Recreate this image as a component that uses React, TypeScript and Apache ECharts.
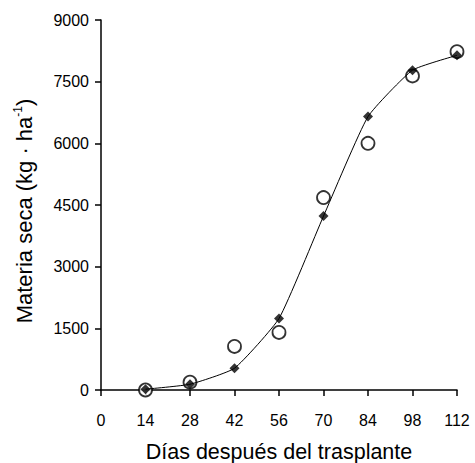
import React, { useEffect, useRef } from "react";
import * as echarts from "echarts";

const days = [14, 28, 42, 56, 70, 84, 98, 112];
const filledValues = [20, 140, 530, 1740, 4230, 6650, 7780, 8140];
const openValues = [0, 190, 1060, 1400, 4680, 6000, 7640, 8230];
const xTicks = [0, 14, 28, 42, 56, 70, 84, 98, 112];
const yTicks = [0, 1500, 3000, 4500, 6000, 7500, 9000];

const font = "'Liberation Sans', Arial, sans-serif";

export default function App() {
  const ref = useRef<HTMLDivElement>(null);
  useEffect(() => {
    const chart = echarts.init(ref.current!, null, { renderer: "svg" });
    const pairs = (vals: number[]) => days.map((d, i) => [d, vals[i]]);
    chart.setOption({
      animation: false,
      backgroundColor: "#fff",
      grid: { left: 101, right: 18, top: 20, bottom: 73, containLabel: false, outerBoundsMode: "none" },
      xAxis: {
        type: "value",
        min: xTicks[0],
        max: xTicks[xTicks.length - 1],
        interval: 14,
        name: "Días después del trasplante",
        nameLocation: "middle",
        nameGap: 51,
        nameTextStyle: { fontFamily: font, fontSize: 21.5, color: "#000" },
        axisLine: { show: true, onZero: false, lineStyle: { color: "#000", width: 1.5 } },
        axisTick: { show: true, inside: false, length: 6, lineStyle: { color: "#000", width: 1.5 } },
        axisLabel: { fontFamily: font, fontSize: 16, color: "#000", margin: 22 },
        splitLine: { show: false },
      },
      yAxis: {
        type: "value",
        min: yTicks[0],
        max: yTicks[yTicks.length - 1],
        interval: 1500,
        name: "{a|Materia seca (kg · ha}{s|-1}{a|)}",
        nameLocation: "middle",
        nameGap: 64,
        nameTextStyle: {
          fontFamily: font,
          fontSize: 22,
          color: "#000",
          padding: [0, 12, 0, 0],
          rich: {
            a: { fontFamily: font, fontSize: 22, color: "#000", lineHeight: 25 },
            s: { fontFamily: font, fontSize: 12, color: "#000", lineHeight: 25, verticalAlign: "top", padding: [0, 0, 10, 0] },
          },
        },
        axisLine: { show: true, lineStyle: { color: "#000", width: 1.5 } },
        axisTick: { show: true, inside: false, length: 6, lineStyle: { color: "#000", width: 1.5 } },
        axisLabel: { fontFamily: font, fontSize: 16, color: "#000", margin: 12, formatter: (v: number) => String(v) },
        splitLine: { show: false },
      },
      series: [
        {
          type: "scatter",
          data: pairs(openValues),
          symbol: "circle",
          symbolSize: 13,
          itemStyle: { color: "#fff", borderColor: "#000", borderWidth: 1.8 },
          z: 2,
        },
        {
          type: "line",
          data: pairs(filledValues),
          smooth: 0.15,
          showSymbol: false,
          symbol: "none",
          lineStyle: { color: "#000", width: 1 },
          z: 3,
        },
        {
          type: "scatter",
          data: pairs(filledValues),
          symbol: "diamond",
          symbolSize: 10,
          itemStyle: { color: "#000" },
          z: 4,
        },
      ],
    });
    return () => chart.dispose();
  }, []);
  return <div ref={ref} style={{ width: 475, height: 463, position: "absolute", left: 0, top: 0 }} />;
}
